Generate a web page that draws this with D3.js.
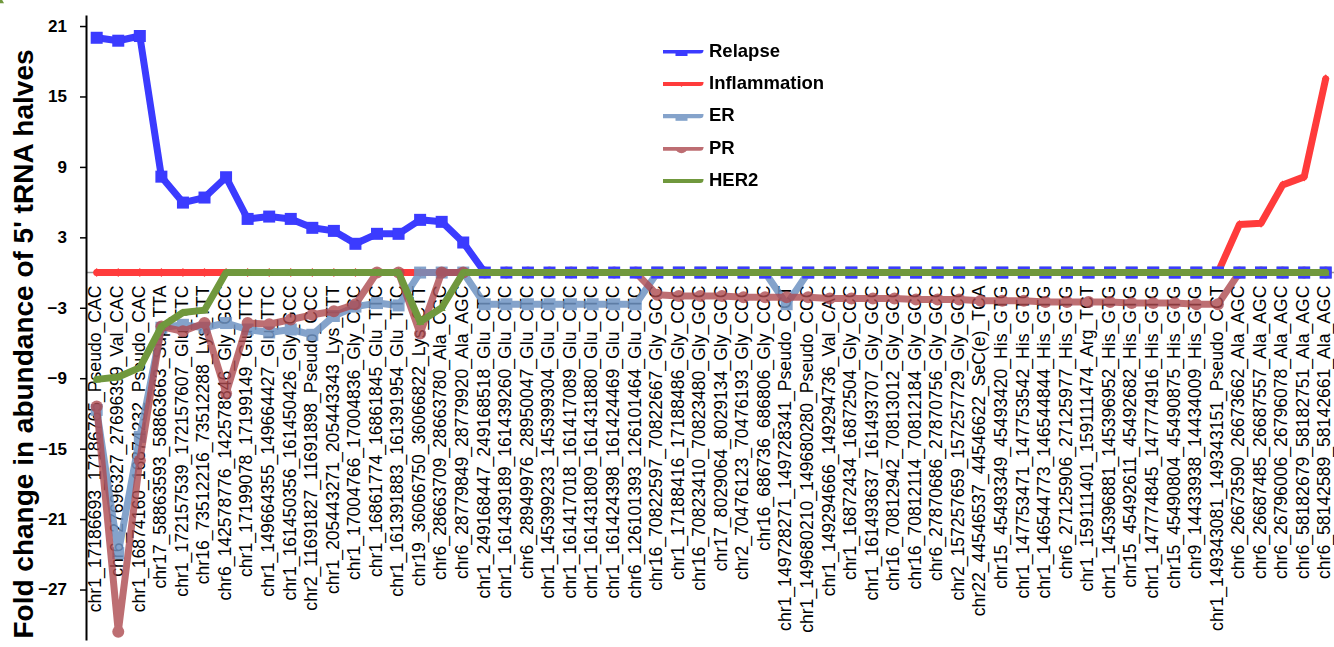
<!DOCTYPE html>
<html>
<head>
<meta charset="utf-8">
<script src="https://cdn.jsdelivr.net/npm/d3@7"></script>
<style>
  body { margin: 0; background: #fff; }
  svg { display: block; font-family: Arial, "Liberation Sans", Helvetica, sans-serif; }
</style>
</head>
<body>
<svg id="chart" width="1334" height="647"></svg>
<script>
const labels = [
  'chr1_17186693_17186765_Pseudo_CAC', 'chr6_27696327_27696399_Val_CAC', 'chr1_16874160_16874232_Pseudo_CAC',
  'chr17_58863593_58863663_Sup_TTA', 'chr1_172157539_172157607_Glu_TTC', 'chr16_73512216_73512288_Lys_TTT',
  'chr6_142578776_142578846_Gly_GCC', 'chr1_17199078_17199149_Glu_TTC', 'chr1_149664355_149664427_Glu_TTC',
  'chr1_161450356_161450426_Gly_GCC', 'chr2_11691827_11691898_Pseudo_CCC', 'chr1_205443271_205443343_Lys_TTT',
  'chr1_17004766_17004836_Gly_CCC', 'chr1_16861774_16861845_Glu_TTC', 'chr1_161391883_161391954_Glu_TTC',
  'chr19_36066750_36066822_Lys_CTT', 'chr6_28663709_28663780_Ala_CGC', 'chr6_28779849_28779920_Ala_AGC',
  'chr1_249168447_249168518_Glu_CTC', 'chr1_161439189_161439260_Glu_CTC', 'chr6_28949976_28950047_Glu_CTC',
  'chr1_145399233_145399304_Glu_CTC', 'chr1_161417018_161417089_Glu_CTC', 'chr1_161431809_161431880_Glu_CTC',
  'chr1_161424398_161424469_Glu_CTC', 'chr6_126101393_126101464_Glu_CTC', 'chr16_70822597_70822667_Gly_GCC',
  'chr1_17188416_17188486_Gly_CCC', 'chr16_70823410_70823480_Gly_GCC', 'chr17_8029064_8029134_Gly_GCC',
  'chr2_70476123_70476193_Gly_CCC', 'chr16_686736_686806_Gly_CCC', 'chr1_149728271_149728341_Pseudo_CCT',
  'chr1_149680210_149680280_Pseudo_CCC', 'chr1_149294666_149294736_Val_CAC', 'chr1_16872434_16872504_Gly_CCC',
  'chr1_161493637_161493707_Gly_GCC', 'chr16_70812942_70813012_Gly_GCC', 'chr16_70812114_70812184_Gly_GCC',
  'chr6_27870686_27870756_Gly_GCC', 'chr2_157257659_157257729_Gly_GCC', 'chr22_44546537_44546622_SeC(e)_TCA',
  'chr15_45493349_45493420_His_GTG', 'chr1_147753471_147753542_His_GTG', 'chr1_146544773_146544844_His_GTG',
  'chr6_27125906_27125977_His_GTG', 'chr1_159111401_159111474_Arg_TCT', 'chr1_145396881_145396952_His_GTG',
  'chr15_45492611_45492682_His_GTG', 'chr1_147774845_147774916_His_GTG', 'chr15_45490804_45490875_His_GTG',
  'chr9_14433938_14434009_His_GTG', 'chr1_149343081_149343151_Pseudo_CCT', 'chr6_26673590_26673662_Ala_AGC',
  'chr6_26687485_26687557_Ala_AGC', 'chr6_26796006_26796078_Ala_AGC', 'chr6_58182679_58182751_Ala_AGC',
  'chr6_58142589_58142661_Ala_AGC'
];

const relapse = [20.0, 19.75, 20.15, 8.17, 5.96, 6.39, 8.12, 4.57, 4.77, 4.57, 3.81, 3.55, 2.45, 3.3, 3.3, 4.49, 4.32, 2.56,
  0, 0, 0, 0, 0, 0, 0, 0, 0, 0, 0, 0, 0, 0, 0, 0, 0, 0, 0, 0, 0, 0,
  0, 0, 0, 0, 0, 0, 0, 0, 0, 0, 0, 0, 0, 0, 0, 0, 0, 0];

const inflammation = [0, 0, 0, 0, 0, 0, 0, 0, 0, 0, 0, 0, 0, 0, 0, 0, 0, 0, 0, 0,
  0, 0, 0, 0, 0, 0, 0, 0, 0, 0, 0, 0, 0, 0, 0, 0, 0, 0, 0, 0,
  0, 0, 0, 0, 0, 0, 0, 0, 0, 0, 0, 0, 0, 4.1, 4.2, 7.45, 8.15, 16.5];

const er = [-11.7, -23.9, -14.0, -4.7, -4.45, -4.7, -4.3, -4.85, -5.1, -4.85, -5.3, -3.7, -2.9, -2.6, -2.8,
  0, 0, 0,
  -2.7, -2.7, -2.7, -2.7, -2.7, -2.7, -2.7, -2.7,
  0, 0, 0, 0, 0, 0,
  -2.7,
  0, 0, 0, 0, 0, 0, 0, 0, 0, 0, 0, 0, 0, 0, 0, 0, 0, 0, 0, 0, 0, 0, 0, 0, 0];

const pr = [-11.4, -30.6, -16.0, -4.6, -5.0, -4.3, -10.3, -4.3, -4.4, -4.0, -3.6, -3.3, -2.7, 0, 0, -5.2, 0, 0,
  0, 0, 0, 0, 0, 0, 0, 0,
  -1.9, -2.0, -2.0, -2.0, -2.1, -2.1, -2.1, -2.1, -2.2, -2.2, -2.2, -2.2, -2.3, -2.3, -2.3, -2.4, -2.4, -2.4,
  -2.5, -2.5, -2.5, -2.5, -2.6, -2.6, -2.6, -2.7, -2.7,
  0, 0, 0, 0, 0];

const her2 = [-9.1, -8.9, -8.1, -4.6, -3.4, -3.2,
  0, 0, 0, 0, 0, 0, 0, 0, 0,
  -4.2, -3.0,
  0, 0, 0, 0, 0, 0, 0, 0, 0, 0, 0, 0, 0, 0, 0, 0, 0, 0, 0, 0, 0, 0, 0, 0,
  0, 0, 0, 0, 0, 0, 0, 0, 0, 0, 0, 0, 0, 0, 0, 0, 0, 0];

const yTicks = [-27, -21, -15, -9, -3, 3, 9, 15, 21];

const series = [
  { name: 'Inflammation', values: inflammation, color: '#ff3b3b', opacity: 1, marker: 'diamond' },
  { name: 'ER', values: er, color: '#6f93c2', opacity: 0.85, marker: 'square' },
  { name: 'PR', values: pr, color: '#ad4a50', opacity: 0.8, marker: 'circle' },
  { name: 'Relapse', values: relapse, color: '#3a3aff', opacity: 1, marker: 'square' },
  { name: 'HER2', values: her2, color: '#6f983c', opacity: 1, marker: 'triangle' }
];
const legendOrder = ['Relapse', 'Inflammation', 'ER', 'PR', 'HER2'];

const svg = d3.select('#chart');

const x = d3.scalePoint()
    .domain(labels)
    .range([96.7, 1325.7]);

const y = d3.scaleLinear()
    .domain([-31.3, 21.94])
    .range([640, 15]);

// soft edge like the original, filter region covers the whole page
svg.append('defs').append('filter')
    .attr('id', 'soft')
    .attr('filterUnits', 'userSpaceOnUse')
    .attr('x', 0).attr('y', 0)
    .attr('width', 1334).attr('height', 647)
    .append('feGaussianBlur')
    .attr('stdDeviation', 0.7);

// x axis line at zero
svg.append('line')
    .attr('x1', 86).attr('x2', 1334)
    .attr('y1', y(0)).attr('y2', y(0))
    .attr('stroke', '#999').attr('stroke-width', 1.5);

// category labels hanging under zero
svg.append('g')
    .selectAll('text')
    .data(labels)
    .join('text')
    .attr('transform', d => `translate(${x(d)},${y(0) + 13}) rotate(-90)`)
    .attr('text-anchor', 'end')
    .attr('dy', '0.27em')
    .attr('font-size', 17.6)
    .attr('fill', '#000')
    .text(d => d);

// y axis
const yAxis = svg.append('g')
    .attr('transform', 'translate(86,0)')
    .call(d3.axisLeft(y).tickValues(yTicks).tickSize(6).tickSizeOuter(0).tickPadding(13));
yAxis.select('.domain').attr('stroke', '#000').attr('stroke-width', 2);
yAxis.selectAll('.tick line').attr('stroke', '#000').attr('stroke-width', 1.5);
yAxis.selectAll('.tick text')
    .attr('font-size', 17)
    .attr('font-weight', 'bold')
    .attr('font-family', 'Arial, "Liberation Sans", sans-serif')
    .attr('fill', '#000');

svg.append('text')
    .attr('transform', `translate(33,344) rotate(-90)`)
    .attr('text-anchor', 'middle')
    .attr('font-size', 28)
    .attr('font-weight', 'bold')
    .text("Fold change in abundance of 5' tRNA halves");

const line = d3.line()
    .x((d, i) => x(labels[i]))
    .y(d => y(d));

function drawMarker(sel, type, color, size) {
    if (type === 'square') {
        sel.append('rect')
            .attr('x', -size / 2).attr('y', -size / 2)
            .attr('width', size).attr('height', size)
            .attr('fill', color);
    } else if (type === 'circle') {
        sel.append('circle').attr('r', size / 2).attr('fill', color);
    } else if (type === 'diamond') {
        const s = size / 2;
        sel.append('path').attr('d', `M0,${-s}L${s * 0.8},0L0,${s}L${-s * 0.8},0Z`).attr('fill', color);
    } else {
        const s = size / 2;
        sel.append('path').attr('d', `M0,${-s}L${s},${s * 0.8}L${-s},${s * 0.8}Z`).attr('fill', color);
    }
}

const markerSize = { Relapse: 12, Inflammation: 9, ER: 12, PR: 12, HER2: 8 };

const plot = svg.append('g').attr('filter', 'url(#soft)');

series.forEach(s => {
    const g = plot.append('g').attr('opacity', s.opacity);
    g.append('path')
        .datum(s.values)
        .attr('d', line)
        .attr('fill', 'none')
        .attr('stroke', s.color)
        .attr('stroke-width', 7)
        .attr('stroke-linejoin', 'round')
        .attr('stroke-linecap', 'round');
    g.selectAll('g.pt')
        .data(s.values)
        .join('g')
        .attr('class', 'pt')
        .attr('transform', (d, i) => `translate(${x(labels[i])},${y(d)})`)
        .each(function () { drawMarker(d3.select(this), s.marker, s.color, markerSize[s.name]); });
});

// legend
const legend = svg.append('g').attr('transform', 'translate(663,50)');
legendOrder.forEach((name, i) => {
    const s = series.find(d => d.name === name);
    const row = legend.append('g')
        .attr('transform', `translate(0,${i * 32.4})`);
    const sym = row.append('g')
        .attr('opacity', s.opacity)
        .attr('filter', 'url(#soft)');
    sym.append('line')
        .attr('x1', 0).attr('x2', 37)
        .attr('stroke', s.color).attr('stroke-width', 7)
        .attr('stroke-linecap', 'round');
    const m = sym.append('g').attr('transform', 'translate(18.5,0)');
    drawMarker(m, s.marker, s.color, markerSize[name]);
    row.append('text')
        .attr('x', 46)
        .attr('y', 6.5)
        .attr('font-size', 18.5)
        .attr('font-weight', 'bold')
        .attr('fill', '#000')
        .text(name);
});
</script>
</body>
</html>
